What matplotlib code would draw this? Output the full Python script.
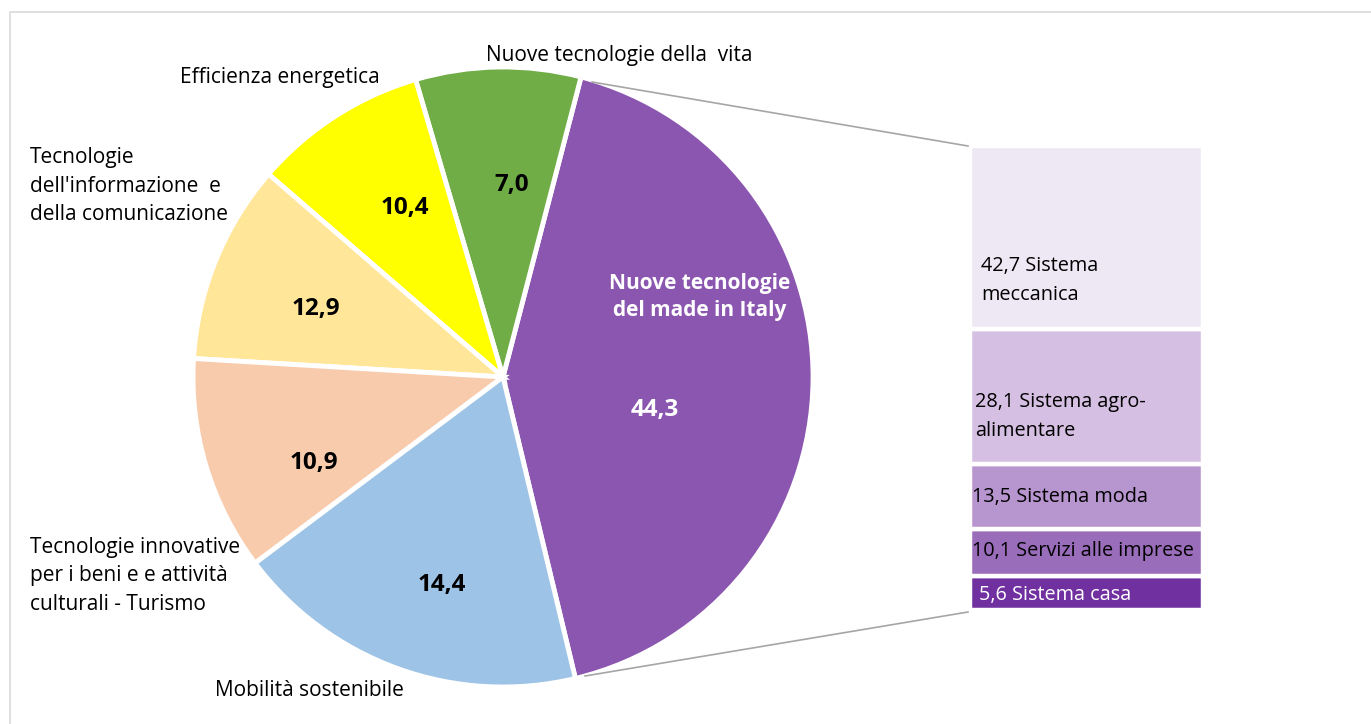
import matplotlib.pyplot as plt
from matplotlib.patches import Rectangle

plt.rcParams['font.family'] = ['Open Sans', 'DejaVu Sans']

settori = ["Nuove tecnologie del made in Italy", "Nuove tecnologie della  vita",
           "Efficienza energetica", "Tecnologie dell'informazione e della comunicazione",
           "Tecnologie innovative per i beni e e attività culturali - Turismo",
           "Mobilità sostenibile"]
quote = [42.2, 8.6, 9.1, 10.4, 11.2, 18.5]
etichette_valori = ["44,3", "7,0", "10,4", "12,9", "10,9", "14,4"]
colori = ["#8B56B0", "#70AD47", "#FFFF00", "#FFE699", "#F8CBAD", "#9DC3E6"]

# Dettaglio del made in Italy (barra impilata, dal basso)
sotto_settori = ["Sistema casa", "Servizi alle imprese", "Sistema moda",
                 "Sistema agro-\nalimentare", "Sistema\nmeccanica"]
sotto_quote = [7.4, 10.0, 14.0, 29.2, 39.3]
sotto_etichette = ["5,6", "10,1", "13,5", "28,1", "42,7"]
sotto_colori = ["#7030A0", "#9A6DBB", "#B795CF", "#D5BFE2", "#EEE7F4"]

W, H = 1371, 724
fig = plt.figure(figsize=(W / 100, H / 100), dpi=100)
ax = fig.add_axes([0, 0, 1, 1])
ax.set_zorder(2)

ax.pie(quote, colors=colori, startangle=-76.5, counterclock=True,
       center=(503, H - 377), radius=310, explode=[0.025, 0, 0, 0, 0, 0],
       wedgeprops=dict(edgecolor="white", linewidth=3.5))
ax.set_xlim(0, W)
ax.set_ylim(0, H)
ax.set_aspect("equal")
ax.axis("off")

# cornice grigia
fig.patches.append(Rectangle((10 / W, -0.1), 1.2, (H - 12) / H + 0.1,
                             transform=fig.transFigure, fill=False,
                             edgecolor="#D9D9D9", linewidth=1.2))

# etichette esterne
fs = 15
ax.text(486, H - 55, "Nuove tecnologie della  vita", fontsize=fs, va="center")
ax.text(180, H - 78, "Efficienza energetica", fontsize=fs, va="center")
ax.text(30, H - 186, "Tecnologie\ndell'informazione  e\ndella comunicazione",
        fontsize=fs, va="center", linespacing=1.45)
ax.text(30, H - 576, "Tecnologie innovative\nper i beni e e attività\nculturali - Turismo",
        fontsize=fs, va="center", linespacing=1.45)
ax.text(215, H - 690, "Mobilità sostenibile", fontsize=fs, va="center")

# valori dentro gli spicchi
pos_valori = [(655, 410), (512, 185), (405, 208), (316, 309), (314, 463), (442, 585)]
for (x, y), t in zip(pos_valori, etichette_valori):
    ax.text(x, H - y, t, fontsize=17.5, fontweight="bold", ha="center", va="center",
            color="white" if t == "44,3" else "black")
ax.text(700, H - 297, "Nuove tecnologie\ndel made in Italy", fontsize=15,
        fontweight="bold", color="white", ha="center", va="center", linespacing=1.4)

# linee di raccordo
ax.plot([592, 968], [H - 82, H - 146], color="#A6A6A6", linewidth=1.2)
ax.plot([585, 968], [H - 676, H - 612], color="#A6A6A6", linewidth=1.2)

# barra impilata
bx = fig.add_axes([970 / W, (H - 610) / H, 233 / W, 464 / H])
bx.set_zorder(1)
base = 0
for v, c in zip(sotto_quote, sotto_colori):
    bx.bar(0, v, bottom=base, width=1, color=c, edgecolor="white", linewidth=3.2)
    base += v
bx.set_xlim(-0.5, 0.5)
bx.set_ylim(0, 100)
bx.axis("off")

txt_pos = [(979, 595), (972, 551), (972, 497), (975, 417), (981, 280)]
for (x, y), n, e in zip(txt_pos, sotto_settori, sotto_etichette):
    ax.text(x, H - y, e + " " + n, fontsize=14.3, va="center", linespacing=1.6,
            color="white" if n == "Sistema casa" else "black")

fig.savefig("out.png", dpi=100)
